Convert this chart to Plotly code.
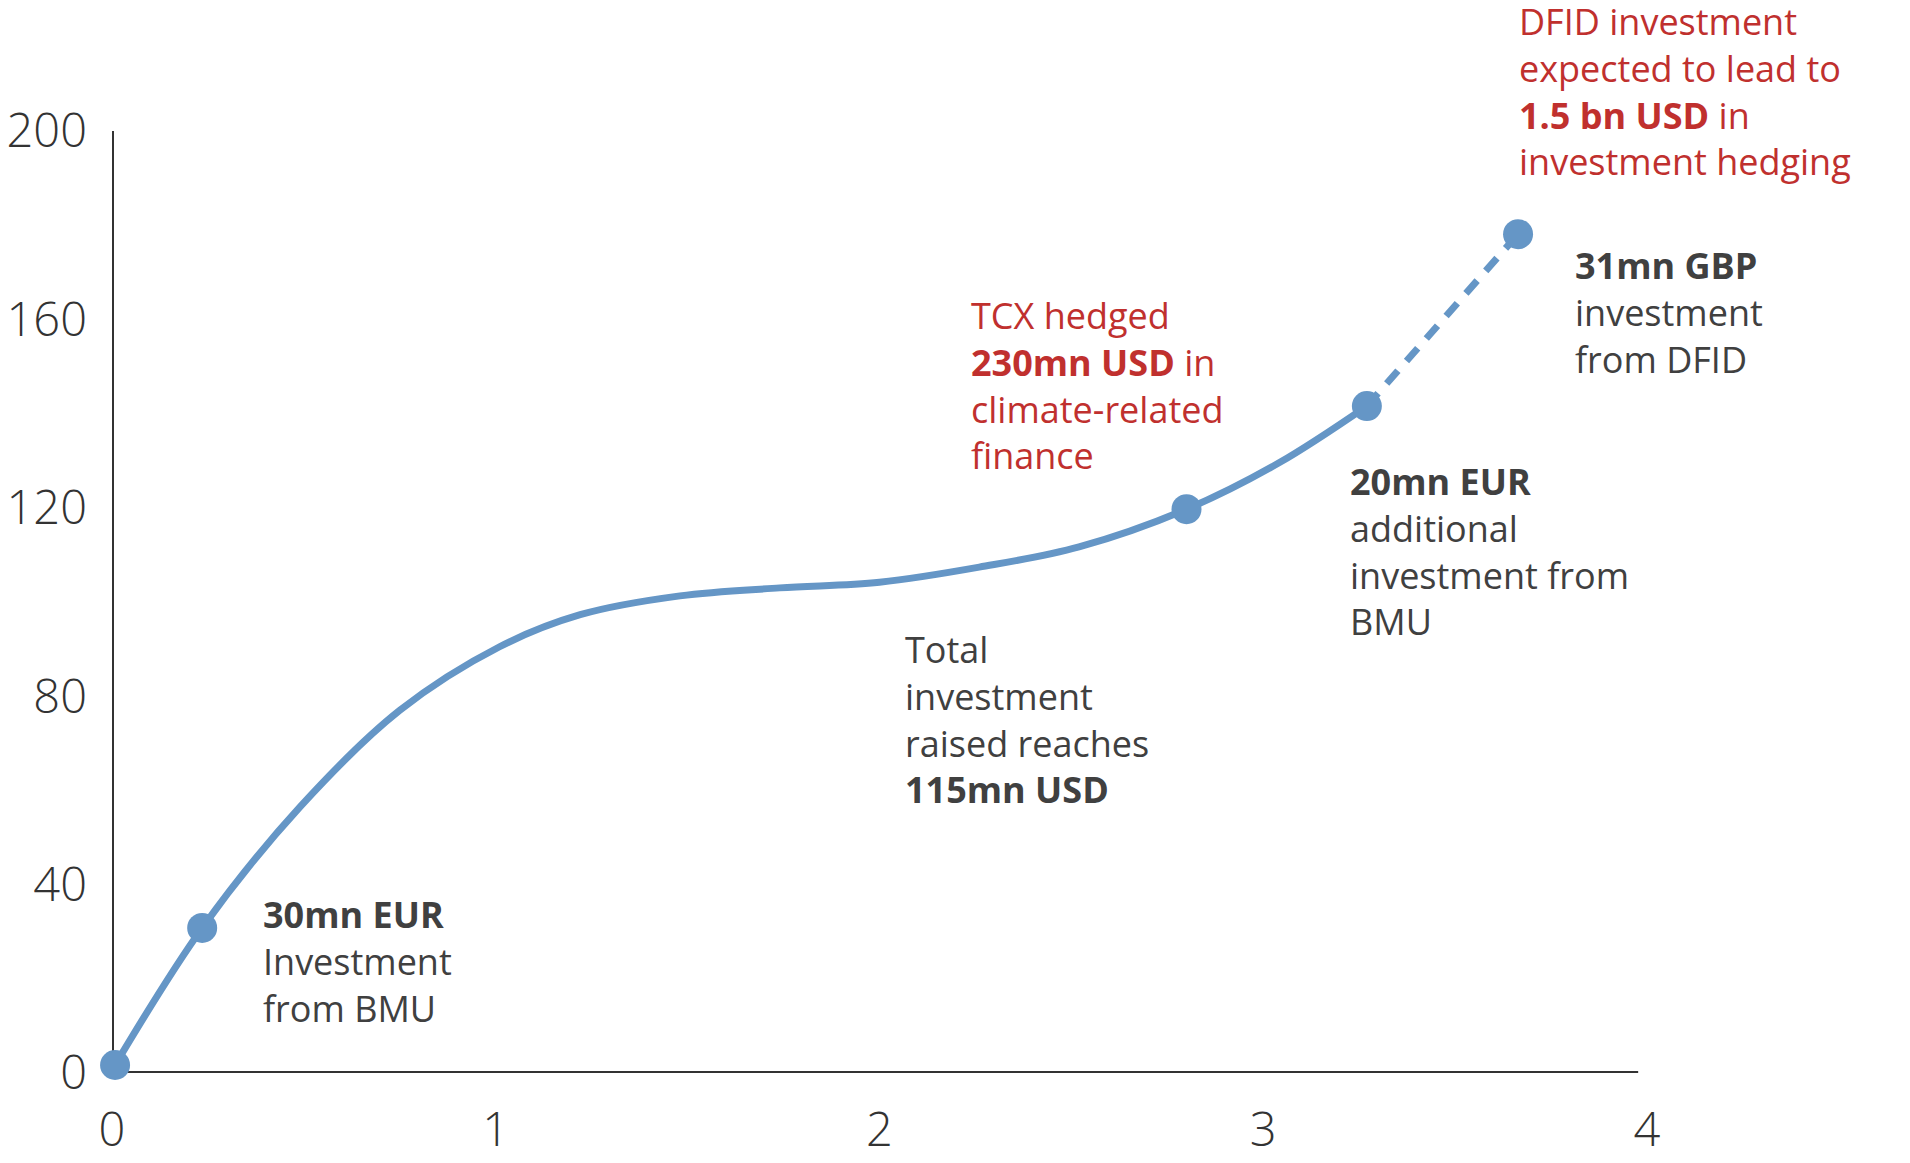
import plotly.graph_objects as go

# Curve (solid part)
curve_x = [0.008, 0.235, 0.49, 0.75, 1.01, 1.22, 1.48, 1.74, 2.0, 2.26, 2.52, 2.80, 3.04, 3.27]
curve_y = [1.7, 30.8, 56.5, 77.0, 90.5, 97.3, 101.3, 103.0, 104.2, 107.4, 111.7, 119.7, 129.5, 141.6]

# Projected (dashed) segment
proj_x = [3.27, 3.664]
proj_y = [141.6, 178.1]

# Milestone points
pts_x = [0.008, 0.235, 2.80, 3.27, 3.664]
pts_y = [1.7, 30.8, 119.7, 141.6, 178.1]

x_ticks = [0, 1, 2, 3, 4]
y_ticks = [0, 40, 80, 120, 160, 200]

# Annotation texts
note_texts = [
    "DFID investment<br>expected to lead to<br><b>1.5 bn USD</b> in<br>investment hedging",
    "<b>31mn GBP</b><br>investment<br>from DFID",
    "TCX hedged<br><b>230mn USD</b> in<br>climate-related<br>finance",
    "<b>20mn EUR</b><br>additional<br>investment from<br>BMU",
    "Total<br>investment<br>raised reaches<br><b>115mn USD</b>",
    "<b>30mn EUR</b><br>Investment<br>from BMU",
]
note_x = [3.660, 3.807, 2.232, 3.222, 2.062, 0.387]          # data x of left edge
note_top = [1.1444, 0.8854, 0.8323, 0.6561, 0.4777, 0.1964]   # paper y of top edge
note_red = [True, False, True, False, False, False]

BLUE = "#6596C6"
RED = "#C0302E"
GREY = "#404040"
AXIS = "#333333"
FONT = "Open Sans"

fig = go.Figure()
fig.add_trace(go.Scatter(x=curve_x, y=curve_y, mode="lines",
                         line=dict(color=BLUE, width=7, shape="spline", smoothing=1.0),
                         hoverinfo="skip", cliponaxis=False))
fig.add_trace(go.Scatter(x=proj_x, y=proj_y, mode="lines",
                         line=dict(color=BLUE, width=7, dash="17px,13px"),
                         hoverinfo="skip", cliponaxis=False))
fig.add_trace(go.Scatter(x=pts_x, y=pts_y, mode="markers",
                         marker=dict(color=BLUE, size=30, line=dict(width=0)),
                         cliponaxis=False))

for t, x, ytop, red in zip(note_texts, note_x, note_top, note_red):
    fig.add_annotation(text=t, x=x, y=ytop, xref="x", yref="paper",
                       xanchor="left", yanchor="top", align="left", showarrow=False,
                       font=dict(family=FONT, size=36, color=RED if red else GREY))

# axis lines
fig.add_shape(type="line", xref="x", yref="y", x0=0, x1=3.977, y0=0, y1=0,
              line=dict(color=AXIS, width=4), layer="below")
fig.add_shape(type="line", xref="x", yref="y", x0=0, x1=0, y0=0, y1=200.8,
              line=dict(color=AXIS, width=4), layer="below")

tick_font = dict(size=47, color="#333333", family=FONT, weight=300)
fig.update_layout(
    width=1894, height=1147,
    margin=dict(l=104, r=255, t=123, b=82),
    paper_bgcolor="white", plot_bgcolor="white",
    showlegend=False,
    font=dict(family=FONT, color="#333333"),
    xaxis=dict(range=[0, 4], tickvals=x_ticks, ticktext=[str(v) for v in x_ticks],
               showgrid=False, zeroline=False, showline=False, ticks="",
               tickfont=tick_font, ticklabelstandoff=25, automargin=False),
    yaxis=dict(range=[0, 200], tickvals=y_ticks, ticktext=[str(v) for v in y_ticks],
               showgrid=False, zeroline=False, showline=False, ticks="",
               tickfont=tick_font, ticklabelstandoff=24, automargin=False),
)

fig.write_html("out.html")
